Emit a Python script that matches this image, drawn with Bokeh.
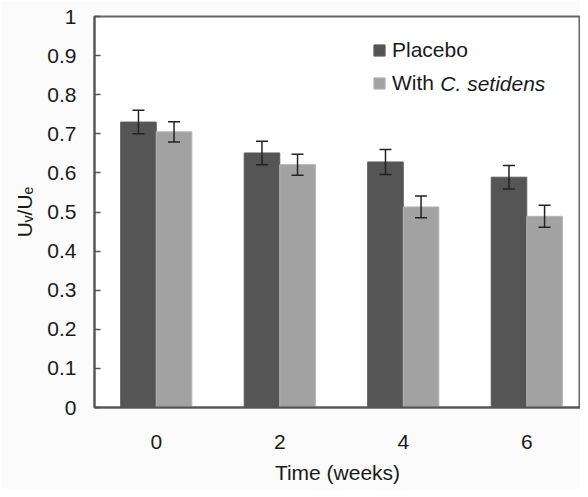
from bokeh.plotting import figure
from bokeh.models import ColumnDataSource, Whisker, TeeHead, Legend, LegendItem, Label, Range1d, FixedTicker
from bokeh.embed import file_html
from bokeh.resources import INLINE

weeks = ["0", "2", "4", "6"]
placebo = [0.73, 0.651, 0.628, 0.589]
placebo_err = [0.030, 0.030, 0.032, 0.030]
setidens = [0.705, 0.621, 0.513, 0.489]
setidens_err = [0.026, 0.027, 0.028, 0.028]
y_ticks = [0, 0.1, 0.2, 0.3, 0.4, 0.5, 0.6, 0.7, 0.8, 0.9, 1]

FONT = "Liberation Sans"
DARK = "#555555"
LIGHT = "#a2a2a2"
TXT = "#1a1a1a"
FS = "21px"

bw = 0.288
centers = [i + 0.5 for i in range(len(weeks))]
src = ColumnDataSource(dict(
    xc=centers,
    xp=[c - bw / 2 for c in centers],
    xs=[c + bw / 2 for c in centers],
    placebo=placebo,
    p_up=[v + e for v, e in zip(placebo, placebo_err)],
    p_lo=[v - e for v, e in zip(placebo, placebo_err)],
    setidens=setidens,
    s_up=[v + e for v, e in zip(setidens, setidens_err)],
    s_lo=[v - e for v, e in zip(setidens, setidens_err)],
))

p = figure(x_range=Range1d(0, 3.935), y_range=Range1d(0, 1), width=580, height=489,
           output_backend="svg", toolbar_location=None,
           min_border_left=94, min_border_right=0, min_border_top=16, min_border_bottom=82)
p.background_fill_color = "white"
p.border_fill_color = "#fbfbfb"
p.outline_line_color = "#666666"
p.outline_line_width = 2
p.grid.visible = False

r1 = p.vbar(x="xp", top="placebo", width=bw, source=src,
            fill_color=DARK, line_color="#5e5e5e", line_width=1)
r2 = p.vbar(x="xs", top="setidens", width=bw, source=src,
            fill_color=LIGHT, line_color="#b4b4b4", line_width=1)

for xcol, up, lo in [("xp", "p_up", "p_lo"), ("xs", "s_up", "s_lo")]:
    w = Whisker(base=xcol, upper=up, lower=lo, source=src, level="overlay",
                line_color="#222222", line_width=1.5,
                upper_head=TeeHead(size=12, line_color="#222222", line_width=1.5),
                lower_head=TeeHead(size=12, line_color="#222222", line_width=1.5))
    p.add_layout(w)

# axes
p.yaxis.ticker = FixedTicker(ticks=y_ticks)
p.yaxis.major_tick_in = 6
p.yaxis.major_tick_out = 0
p.yaxis.minor_tick_line_color = None
p.yaxis.major_label_standoff = 18
p.yaxis.axis_label = "Uᵥ/Uₑ"
p.yaxis.axis_label_standoff = 8
p.xaxis.ticker = FixedTicker(ticks=centers)
p.xaxis.major_label_overrides = {c: w for c, w in zip(centers, weeks)}
p.xaxis.major_tick_in = 0
p.xaxis.major_tick_out = 0
p.xaxis.minor_tick_line_color = None
p.xaxis.major_label_standoff = 27
p.xaxis.axis_label = "Time (weeks)"
p.xaxis.axis_label_standoff = 9
for ax in (p.xaxis, p.yaxis):
    ax.axis_line_color = "#555555"
    ax.axis_line_width = 2
    ax.major_tick_line_color = "#555555"
    ax.major_tick_line_width = 1.5
    ax.major_label_text_font = FONT
    ax.major_label_text_font_size = FS
    ax.major_label_text_color = TXT
    ax.axis_label_text_font = FONT
    ax.axis_label_text_font_size = FS
    ax.axis_label_text_font_style = "normal"
    ax.axis_label_text_color = TXT

legend = Legend(items=[LegendItem(label="Placebo", renderers=[r1]),
                       LegendItem(label="With", renderers=[r2])],
                location=(278, 312), background_fill_alpha=0, border_line_color=None,
                padding=0, margin=0, spacing=9, glyph_width=14, glyph_height=14,
                label_standoff=6, label_text_font=FONT, label_text_font_size=FS,
                label_text_color=TXT)
p.add_layout(legend)
p.add_layout(Label(x=2.80, y=0.828, text="C. setidens", text_font=FONT, text_font_size=FS,
                   text_font_style="italic", text_color=TXT, text_baseline="middle"))

open("out.html", "w").write(file_html(p, INLINE))
